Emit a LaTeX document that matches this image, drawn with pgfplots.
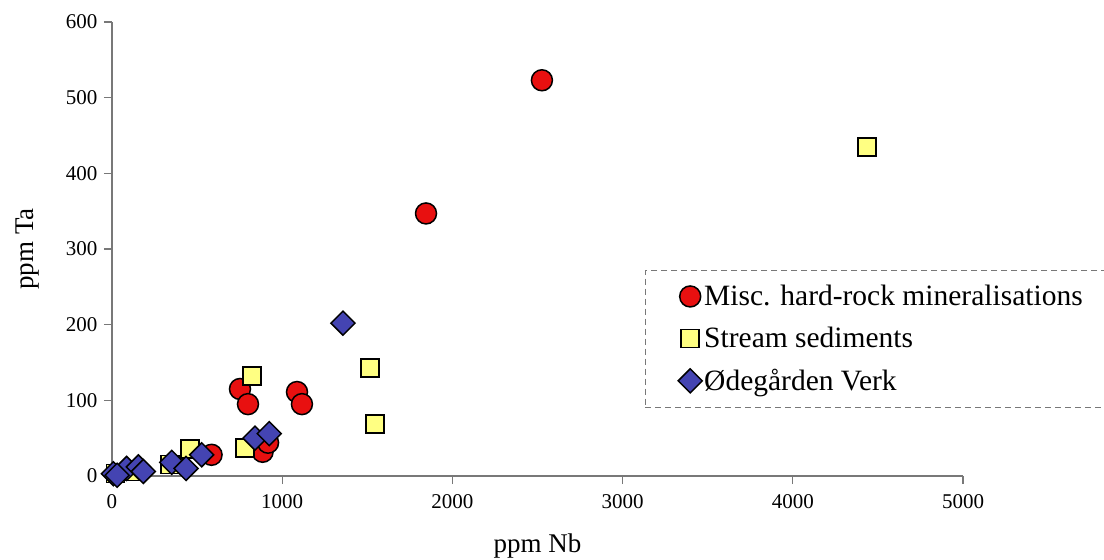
\documentclass[border=0pt]{standalone}
\usepackage{pgfplots}
\pgfplotsset{compat=1.18}
\usepackage{fontspec}
\setmainfont{Liberation Serif}

\definecolor{hardrock}{RGB}{232,16,16}
\definecolor{stream}{RGB}{255,255,130}
\definecolor{odeg}{RGB}{68,68,178}
\definecolor{axisgray}{RGB}{120,120,120}

\begin{document}
\begin{tikzpicture}
\useasboundingbox (-112pt,-84pt) rectangle (992pt,476pt);
\begin{axis}[
  at={(0,0)}, anchor=south west,
  scale only axis, width=851pt, height=454pt,
  xmin=0, xmax=5000, ymin=0, ymax=600,
  axis lines*=left,
  axis line style={axisgray, line width=1.2pt},
  xtick={0,1000,...,5000}, ytick={0,100,...,600},
  major tick style={axisgray, line width=1.2pt},
  tick align=outside, major tick length=8pt,
  xticklabel style={font=\fontsize{21}{24}\selectfont, yshift=-7pt},
  yticklabel style={font=\fontsize{21}{24}\selectfont, xshift=-3pt},
  /pgf/number format/assume math mode=true,
  /pgf/number format/1000 sep={},
  scaled ticks=false,
  xlabel={ppm Nb}, ylabel={ppm Ta},
  label style={font=\fontsize{27}{30}\selectfont},
  xlabel style={yshift=-18pt},
  ylabel style={yshift=20pt},
  clip=false,
  legend style={
    at={(rel axis cs:0.626,0.4537)}, anchor=north west,
    draw=axisgray, dash pattern=on 6pt off 4pt, line width=0.9pt,
    font=\fontsize{29.5}{33}\selectfont,
    inner xsep=33pt, inner ysep=13pt, row sep=16pt,
    cells={anchor=west},
  },
  legend image code/.code={\draw[#1, solid] plot coordinates {(0.3cm,0cm)};},
]
% Misc. hard-rock mineralisations
\addplot[only marks, mark=*, mark size=10.5pt,
  mark options={fill=hardrock, draw=black, line width=1.5pt, solid}]
  coordinates {
  (2526,523) (1845,347) (752,115) (799,95) (1087,111) (1116,95)
  (585,28) (885,32) (917,44)
};
% Stream sediments
\addplot[only marks, mark=square*, mark size=9pt,
  mark options={fill=stream, draw=black, line width=1.5pt, solid}]
  coordinates {
  (4436,435) (1516,143) (1545,69) (824,132) (781,37) (458,36)
  (340,15) (20,3) (110,6)
};
% Ødegården Verk
\addplot[only marks, mark=square*, mark size=8.5pt,
  mark options={fill=odeg, draw=black, line width=1.5pt, rotate=45, solid}]
  coordinates {
  (1357,202) (840,50) (924,56) (527,28) (351,18) (435,10)
  (8,3) (86,10) (155,12) (184,6) (30,1)
};
\legend{Misc. hard-rock mineralisations\hspace*{60pt}, Stream sediments, Ødegården Verk}
\end{axis}
\end{tikzpicture}
\end{document}
